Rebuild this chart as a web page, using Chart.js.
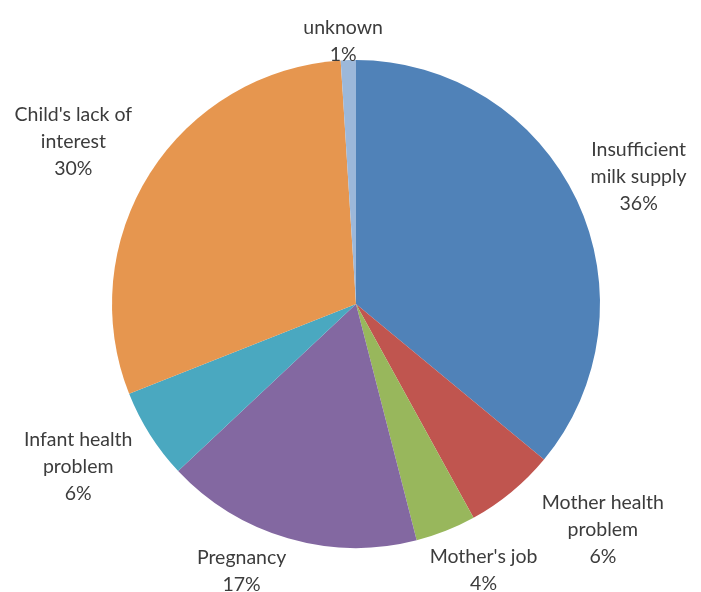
<!DOCTYPE html>
<html>
<head>
<meta charset="utf-8">
<script src="https://cdn.jsdelivr.net/npm/chart.js@4"></script>
<style>
    body { margin: 0; background: #fff; }
    #wrap { width: 701px; height: 592px; }
</style>
</head>
<body>
<div id="wrap"><canvas id="pieChart" width="701" height="592"></canvas></div>
<script>
const categories = ["Insufficient milk supply", "Mother health problem", "Mother's job", "Pregnancy", "Infant health problem", "Child's lack of interest", "unknown"]
const values = [36, 6, 4, 17, 6, 30, 1]
// label text as it is wrapped in the picture
const labelLines = [
    ["Insufficient", "milk supply"],
    ["Mother health", "problem"],
    ["Mother's job"],
    ["Pregnancy"],
    ["Infant health", "problem"],
    ["Child's lack of", "interest"],
    ["unknown"],
]
const colors = ["#5082b8", "#c0554f", "#98b75c", "#8368a1", "#4aa8c0", "#e6964f", "#9cb8da"]

// how far out each label sits (x radius) and small angle nudges (deg)
const labelDist = [1.27, 1.37, 1.21, 1.19, 1.32, 1.335, 1.08]
const labelTurn = [1, -8, -4, 7, 2, -2.6, -1]

const outsideLabels = {
    id: "outsideLabels",
    afterDraw(chart){
        const ctx = chart.ctx
        const meta = chart.getDatasetMeta(0)
        const total = values.reduce((a, b) => a + b, 0)
        ctx.save()
        ctx.font = "19.5px Lato"
        ctx.fillStyle = "#3c3c3c"
        ctx.textAlign = "center"
        ctx.textBaseline = "middle"
        meta.data.forEach((arc, i) => {
            const mid = (arc.startAngle + arc.endAngle) / 2 + labelTurn[i] * Math.PI / 180
            const r = arc.outerRadius * labelDist[i]
            const cx = arc.x + Math.cos(mid) * r
            const cy = arc.y + Math.sin(mid) * r
            const lines = labelLines[i].concat([Math.round(values[i] / total * 100) + "%"])
            const lh = 27
            const top = cy - (lines.length - 1) * lh / 2
            lines.forEach((t, k) => ctx.fillText(t, cx, top + k * lh))
        })
        ctx.restore()
    }
}

new Chart(document.getElementById("pieChart"), {
    type: "pie",
    data: {
        labels: categories,
        datasets: [{
            data: values,
            backgroundColor: colors,
            borderWidth: 0,
        }]
    },
    options: {
        responsive: false,
        animation: false,
        layout: { padding: { top: 60, bottom: 44, left: 112, right: 101 } },
        plugins: {
            legend: { display: false },
            tooltip: { enabled: false }
        }
    },
    plugins: [outsideLabels]
})
</script>
</body>
</html>
